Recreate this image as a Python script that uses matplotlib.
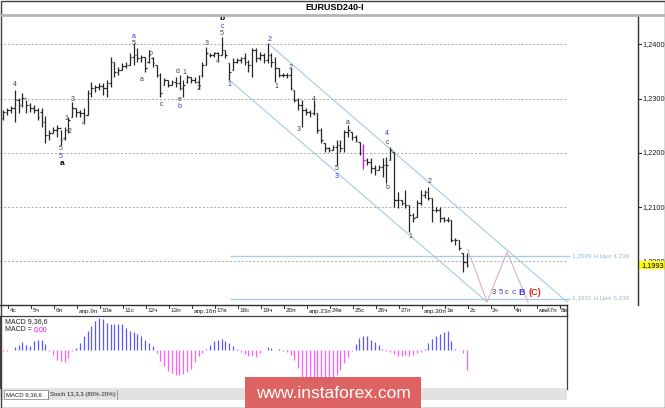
import matplotlib
matplotlib.use('Agg')
import matplotlib.pyplot as plt
from matplotlib.collections import LineCollection
from matplotlib.patches import Rectangle
from matplotlib.lines import Line2D
import matplotlib.transforms as mtransforms
import numpy as np

plt.rcParams['font.family'] = ['Liberation Sans', 'DejaVu Sans']

# ---------------- data ----------------
title = "EURUSD240-I"
opens = [1.2264,1.2275,1.2279,1.2283,1.2298,1.2288,1.2301,1.2288,1.2283,1.2279,
         1.2275,1.2257,1.2233,1.2237,1.2242,1.2246,1.2227,1.2242,1.2266,1.2283,
         1.2275,1.2274,1.2270,1.2311,1.2320,1.2322,1.2323,1.2320,1.2329,1.2368,
         1.2349,1.2353,1.2360,1.2362,1.2377,1.2381,1.2375,1.2377,1.2368,1.2375,
         1.2362,1.2344,1.2325,1.2334,1.2325,1.2331,1.2329,1.2320,1.2331,1.2340,
         1.2334,1.2331,1.2344,1.2362,1.2381,1.2381,1.2384,1.2381,1.2390,1.2366,
         1.2353,1.2368,1.2371,1.2375,1.2368,1.2362,1.2390,1.2375,1.2381,1.2371,
         1.2381,1.2368,1.2357,1.2344,1.2344,1.2344,1.2316,1.2298,1.2288,1.2279,
         1.2275,1.2274,1.2274,1.2242,1.2218,1.2209,1.2205,1.2211,1.2215,1.2209,
         1.2239,1.2239,1.2229,1.2220,1.2205,1.2187,1.2183,1.2172,1.2168,1.2174,
         1.2178,1.2187,1.2202,1.2113,1.2113,1.2108,1.2104,1.2085,1.2082,1.2108,
         1.2122,1.2128,1.2117,1.2095,1.2095,1.2080,1.2076,1.2076,1.2039,1.2039,
         1.2015,1.1999]
highs = [1.2279,1.2283,1.2287,1.2316,1.2301,1.2311,1.2298,1.2292,1.2288,1.2283,
         1.2283,1.2268,1.2242,1.2248,1.2251,1.2242,1.2248,1.2266,1.2294,1.2283,
         1.2279,1.2283,1.2316,1.2331,1.2325,1.2329,1.2329,1.2334,1.2377,1.2368,
         1.2358,1.2366,1.2368,1.2384,1.2403,1.2394,1.2381,1.2377,1.2390,1.2377,
         1.2362,1.2347,1.2338,1.2334,1.2334,1.2340,1.2344,1.2334,1.2344,1.2340,
         1.2340,1.2344,1.2368,1.2395,1.2384,1.2386,1.2386,1.2414,1.2390,1.2366,
         1.2375,1.2375,1.2377,1.2384,1.2371,1.2394,1.2394,1.2386,1.2384,1.2403,
         1.2384,1.2377,1.2357,1.2347,1.2347,1.2357,1.2316,1.2301,1.2298,1.2283,
         1.2279,1.2298,1.2274,1.2246,1.2218,1.2211,1.2215,1.2224,1.2224,1.2242,
         1.2251,1.2239,1.2233,1.2220,1.2216,1.2191,1.2191,1.2178,1.2178,1.2191,
         1.2192,1.2211,1.2202,1.2128,1.2113,1.2132,1.2104,1.2089,1.2113,1.2132,
         1.2132,1.2137,1.2117,1.2100,1.2100,1.2082,1.2082,1.2076,1.2043,1.2039,
         1.2015,1.2015]
lows = [1.2261,1.2270,1.2274,1.2257,1.2274,1.2285,1.2274,1.2275,1.2274,1.2261,
        1.2248,1.2218,1.2224,1.2237,1.2229,1.2215,1.2224,1.2237,1.2266,1.2266,
        1.2266,1.2257,1.2270,1.2303,1.2312,1.2316,1.2307,1.2303,1.2322,1.2340,
        1.2344,1.2353,1.2357,1.2362,1.2362,1.2368,1.2368,1.2349,1.2366,1.2358,
        1.2340,1.2303,1.2325,1.2322,1.2325,1.2322,1.2316,1.2303,1.2329,1.2329,
        1.2329,1.2318,1.2340,1.2362,1.2377,1.2377,1.2371,1.2381,1.2375,1.2334,
        1.2353,1.2366,1.2366,1.2362,1.2349,1.2340,1.2368,1.2371,1.2366,1.2366,
        1.2358,1.2331,1.2340,1.2340,1.2338,1.2316,1.2294,1.2279,1.2248,1.2270,
        1.2266,1.2270,1.2237,1.2218,1.2202,1.2202,1.2205,1.2178,1.2202,1.2202,
        1.2229,1.2224,1.2220,1.2196,1.2170,1.2178,1.2163,1.2159,1.2168,1.2156,
        1.2144,1.2187,1.2100,1.2098,1.2104,1.2098,1.2054,1.2072,1.2082,1.2104,
        1.2117,1.2113,1.2072,1.2091,1.2072,1.2072,1.2072,1.2036,1.2030,1.2021,
        1.1980,1.1989]
closes = [1.2275,1.2279,1.2283,1.2298,1.2288,1.2301,1.2288,1.2283,1.2279,1.2266,
          1.2257,1.2233,1.2237,1.2242,1.2246,1.2224,1.2242,1.2261,1.2283,1.2275,
          1.2274,1.2270,1.2311,1.2320,1.2322,1.2323,1.2320,1.2329,1.2368,1.2349,
          1.2353,1.2360,1.2362,1.2377,1.2381,1.2375,1.2377,1.2357,1.2381,1.2366,
          1.2344,1.2311,1.2334,1.2325,1.2331,1.2329,1.2320,1.2325,1.2340,1.2334,
          1.2331,1.2325,1.2362,1.2384,1.2381,1.2384,1.2381,1.2390,1.2381,1.2349,
          1.2368,1.2371,1.2375,1.2368,1.2362,1.2390,1.2375,1.2381,1.2371,1.2381,
          1.2368,1.2357,1.2344,1.2344,1.2344,1.2320,1.2298,1.2288,1.2279,1.2275,
          1.2274,1.2288,1.2242,1.2224,1.2209,1.2205,1.2211,1.2215,1.2209,1.2239,
          1.2242,1.2229,1.2224,1.2200,1.2187,1.2183,1.2172,1.2168,1.2174,1.2178,
          1.2178,1.2205,1.2113,1.2113,1.2108,1.2104,1.2085,1.2080,1.2108,1.2122,
          1.2128,1.2117,1.2095,1.2095,1.2080,1.2076,1.2076,1.2039,1.2039,1.2025,
          1.1999,1.1993]
highlight_bar = 94

# MACD histogram, in units of 0.0001
macd_hist = [-1.3,-1.0,0.5,3.0,5.0,7.7,4.7,4.3,8.7,9.7,
             9.7,6.3,-1.0,-4.7,-9.7,-11.3,-12.3,-8.0,-1.3,2.0,
             7.0,13.7,18.7,23.7,28.7,32.0,31.0,27.0,26.3,26.3,
             26.3,26.3,22.0,18.7,17.7,16.0,13.7,10.3,7.0,4.3,
             -3.0,-10.7,-15.7,-20.7,-23.0,-24.7,-24.7,-24.0,-22.3,-19.0,
             -12.3,-6.3,-3.0,1.0,5.3,8.7,10.3,11.0,8.7,7.0,
             3.7,1.0,-1.7,-3.7,-5.7,-6.3,-7.0,-3.0,0.3,3.0,
             2.0,0.3,1.0,-0.7,-2.3,-4.7,-9.7,-18.0,-27.0,-30.7,
             -32.0,-33.0,-33.7,-34.7,-34.7,-33.0,-30.3,-24.7,-19.7,-13.0,
             -7.3,-1.3,6.3,12.0,13.7,13.7,10.3,8.3,5.3,1.0,
             -1.3,-2.3,-4.0,-5.7,-6.3,-5.0,-5.7,-4.7,-3.0,-1.7,
             1.0,7.0,11.3,13.7,16.0,18.0,18.7,8.7,1.0,-0.3,
             -3.0,-20.0]

day_labels = ["4с","5ч","6п","апр.9п","10в","11с","12ч","13п","апр.16п","17в",
              "18с","19ч","20п","апр.23п","24в","25с","26ч","27п","апр.30п","1в",
              "2с","3ч","4п","май7п","8в"]
price_ticks = [1.2400, 1.2300, 1.2200, 1.2100, 1.2000]
last_price = 1.1993
target_levels = [1.2009, 1.1931]
target_texts = ["1,2009 Н.Цел 4,236", "1,1931 Н.Цел 5,236"]
upper_channel_k = [69.6, 147.2]
upper_channel_p = [1.2399, 1.1925]
lower_channel_k = [58.9, 126.3]
lower_channel_p = [1.2335, 1.1925]
projection_k = [121.3, 126.3, 131.5, 137.0]
projection_p = [1.2021, 1.1925, 1.2017, 1.1925]

DK, BL, RD = '#404040', '#3333ff', '#dd2222'
wave_labels = [
    (3.05, 1.2327, "4", DK, False), (15.1, 1.2209, "5", DK, False),
    (15.1, 1.2194, "5", BL, False), (15.3, 1.2180, "a", '#000000', True),
    (16.4, 1.2264, "1", DK, False), (17.2, 1.2239, "2", DK, False),
    (18.2, 1.2298, "3", DK, False), (21.1, 1.2255, "4", DK, False),
    (34.1, 1.2415, "a", BL, False), (34.1, 1.2401, "5", DK, False),
    (36.2, 1.2336, "a", DK, False), (38.3, 1.2384, "b", DK, False),
    (41.2, 1.2290, "c", DK, False), (45.4, 1.2351, "d", DK, False),
    (46.1, 1.2299, "e", DK, False), (46.1, 1.2286, "b", BL, False),
    (47.2, 1.2349, "1", DK, False), (51.1, 1.2318, "2", DK, False),
    (53.2, 1.2401, "3", DK, False), (56.1, 1.2368, "4", DK, False),
    (57.1, 1.2421, "5", DK, False), (57.1, 1.2434, "c", BL, False),
    (57.1, 1.2448, "b", '#000000', True), (58.9, 1.2327, "1", BL, False),
    (69.4, 1.2410, "2", BL, False), (71.2, 1.2322, "1", DK, False),
    (75.1, 1.2358, "2", DK, False), (77.2, 1.2244, "3", DK, False),
    (81.1, 1.2298, "4", DK, False), (87.1, 1.2172, "5", DK, False),
    (87.1, 1.2157, "3", BL, False), (90.0, 1.2257, "a", DK, False),
    (100.2, 1.2137, "b", DK, False), (100.2, 1.2235, "4", BL, False),
    (100.2, 1.2220, "c", DK, False), (106.2, 1.2045, "1", DK, False),
    (111.2, 1.2148, "2", DK, False),
]
bottom_labels = [
    (128.1, 1.1942, "3", DK, False, 5.3), (129.9, 1.1942, "5", BL, False, 5.5),
    (131.5, 1.1942, "c", DK, False, 5.5), (133.3, 1.1942, "c", BL, False, 6),
    (135.3, 1.1942, "B", BL, True, 6.5), (138.7, 1.1942, "(C)", RD, True, 6.5),
]

# ---------------- layout helpers ----------------
W, H = 665, 408
fig = plt.figure(figsize=(W / 100, H / 100), dpi=100)
fig.patch.set_facecolor('white')

def rect(x0, y0, x1, y1):
    return [x0 / W, 1 - y1 / H, (x1 - x0) / W, (y1 - y0) / H]

def fline(x0, y0, x1, y1, **kw):
    fig.add_artist(Line2D([x0 / W, x1 / W], [1 - y0 / H, 1 - y1 / H],
                          transform=fig.transFigure, **kw))

def ftext(x, y, s, **kw):
    fig.text(x / W, 1 - y / H, s, **kw)

# ---------------- main price chart ----------------
ax = fig.add_axes(rect(0, 15, 638, 305))
XL = (-0.862, 165.7)
ax.set_xlim(*XL)
ax.set_ylim(1.19194, 1.24544)
ax.axis('off')

n = len(closes)
xs = np.arange(n)
grid_end = 147.0
ax.hlines(price_ticks, XL[0], grid_end, colors='#a8a8a8',
          linestyles=(0, (2, 2)), lw=0.7, zorder=1)

# target levels
for lev, txt in zip(target_levels, target_texts):
    ax.hlines(lev, 59.2, 148.0, colors='#a6cbe0', lw=0.9, zorder=1)
    ax.text(148.4, lev, txt, fontsize=4.6, color='#9cb6c8', va='center', ha='left')

# channel and projection
ax.plot(upper_channel_k, upper_channel_p, color='#a6cbe0', lw=0.8, zorder=1)
ax.plot(lower_channel_k, lower_channel_p, color='#a6cbe0', lw=0.8, zorder=1)
ax.plot(projection_k, projection_p, color='#d8b4c2', lw=0.8, zorder=1)

# OHLC bars
segs, cols = [], []
tw = 0.42
for i in range(n):
    c = '#ff00ff' if i == highlight_bar else '#262626'
    segs += [[(xs[i], lows[i]), (xs[i], highs[i])],
             [(xs[i] - tw, opens[i]), (xs[i], opens[i])],
             [(xs[i], closes[i]), (xs[i] + tw, closes[i])]]
    cols += [c, c, c]
ax.add_collection(LineCollection(segs, colors=cols, linewidths=0.9, zorder=3))

# wave labels
for k, p, s, c, b in wave_labels:
    ax.text(k, p, s, fontsize=5.0 if not b else 6, color=c, ha='center', va='center',
            fontweight='bold' if b else 'normal', zorder=4)
for k, p, s, c, b, fs in bottom_labels:
    ax.text(k, p, s, fontsize=fs, color=c, ha='center', va='center',
            fontweight='bold' if b else 'normal', zorder=4)

# price axis
fline(638, 15, 638, 305, color='#303030', lw=1.0)
ytrans = mtransforms.blended_transform_factory(fig.transFigure, ax.transData)
for p in price_ticks:
    ax.add_line(Line2D([638 / W, 641 / W], [p, p], transform=ytrans, color='#303030', lw=0.8, clip_on=False))
    ax.text(642 / W, p, f"{p:.4f}".replace('.', ','), transform=ytrans,
            fontsize=5.3, va='center', ha='left', color='#202020', clip_on=False)
ax.add_patch(Rectangle((639 / W, last_price - 0.00068), 26 / W, 0.00136, transform=ytrans,
                       facecolor='#ffff00', edgecolor='none', clip_on=False, zorder=5))
ax.text(641 / W, last_price, f"{last_price:.4f}".replace('.', ','), transform=ytrans,
        fontsize=5.3, va='center', ha='left', color='#000000', clip_on=False, zorder=6)

# date axis
fline(0, 305, 567, 305, color='#303030', lw=1.0)
fline(567, 305, 567, 316, color='#303030', lw=1.0)
xtrans = mtransforms.blended_transform_factory(ax.transData, fig.transFigure)
for j, lab in enumerate(day_labels):
    kx = 1.35 + 6 * j
    ax.add_line(Line2D([kx, kx], [1 - 305 / H, 1 - 308 / H], transform=xtrans,
                       color='#303030', lw=0.7, clip_on=False))
    ax.text(kx + 0.3, 1 - 311 / H, lab, transform=xtrans, fontsize=4.6,
            ha='left', va='center', color='#202020', clip_on=False)

# ---------------- MACD panel ----------------
ax2 = fig.add_axes(rect(0, 316, 567, 389))
ax2.set_xlim(XL[0], XL[0] + 567 / 3.83)
ax2.set_ylim(-39, 34)
ax2.set_xticks([]); ax2.set_yticks([])
for s in ax2.spines.values():
    s.set_color('#404040'); s.set_linewidth(0.9)
mh = np.array(macd_hist)
ax2.vlines(xs, 0, mh, colors=np.where(mh >= 0, '#5a5aff', '#ff5cff'), lw=0.9)
ax2.text(0.009, 0.93, "MACD 9,36,6", transform=ax2.transAxes, fontsize=5, va='center', color='#202020')
ax2.text(0.009, 0.81, "MACD =", transform=ax2.transAxes, fontsize=5, va='center', color='#202020')
ax2.text(0.060, 0.81, "0,00", transform=ax2.transAxes, fontsize=5, va='center', color='#ff00ff')

# tabs strip
fig.add_artist(Rectangle((0, 1 - 400 / H), 567 / W, 11 / H, transform=fig.transFigure,
                         facecolor='#e2e2e2', edgecolor='none'))
fig.add_artist(Rectangle((4 / W, 1 - 399 / H), 44 / W, 9 / H, transform=fig.transFigure,
                         facecolor='#ffffff', edgecolor='#808080', lw=0.5))
ftext(6, 394.5, "MACD 9,36,6", fontsize=4.3, va='center', color='#202020')
ftext(50, 394.5, "Stoch 13,3,3 (80%-20%)", fontsize=4.3, va='center', color='#202020')
fline(48, 390, 48, 399, color='#808080', lw=0.5)
fline(117, 390, 117, 399, color='#808080', lw=0.5)

# title
ftext(335, 7, title, fontsize=6.5, fontweight='bold', ha='center', va='center', color='#000000')
fline(0, 14.5, 665, 14.5, color='#b4b4b4', lw=2.0)

# watermark
fig.add_artist(Rectangle((245 / W, 0), 176 / W, 31 / H, transform=fig.transFigure,
                         facecolor='#dd5c5c', edgecolor='none', alpha=0.95, zorder=10))
ftext(333, 393, "www.instaforex.com", fontsize=12.5, color='white', ha='center',
      va='center', zorder=11)

# outer frame
fig.add_artist(Rectangle((0.5 / W, 0.5 / H), (W - 1) / W, (H - 1) / H, transform=fig.transFigure,
                         facecolor='none', edgecolor='#404040', lw=1.0))

fig.savefig('out.png', dpi=100)
